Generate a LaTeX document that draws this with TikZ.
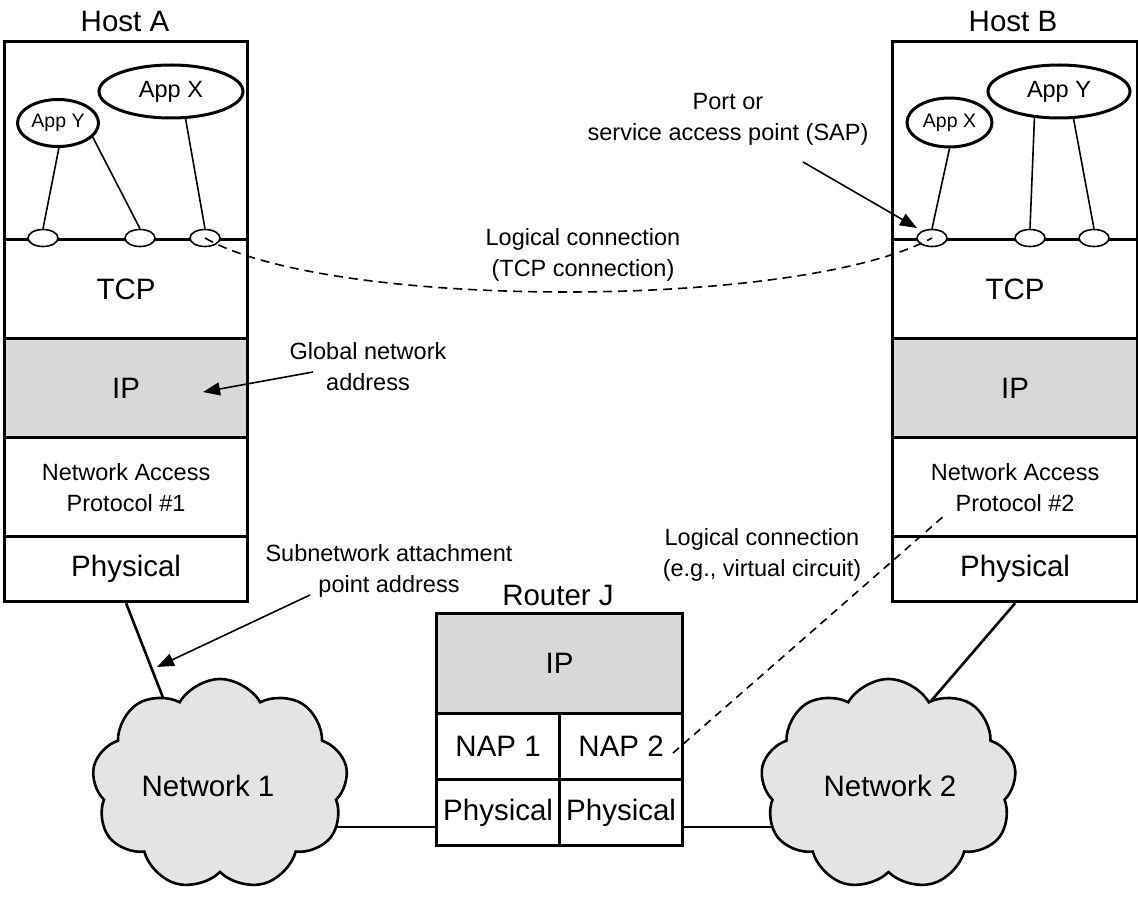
\documentclass[tikz,border=0pt]{standalone}
\usepackage{fontspec}
\setmainfont{Liberation Sans}
\usetikzlibrary{shapes.geometric,shapes.symbols,arrows.meta}
\definecolor{layergray}{RGB}{216,216,216}
\definecolor{cloudgray}{RGB}{228,228,228}
\begin{document}
\begin{tikzpicture}[x=1pt,y=-1pt,
  fbig/.style={font=\fontsize{29.5}{33}\selectfont},
  fmed/.style={font=\fontsize{23.5}{31}\selectfont},
  fsmall/.style={font=\fontsize{19.5}{22}\selectfont},
  stackbox/.style={draw,line width=3.2pt,rectangle,inner sep=0pt,anchor=north west,align=center},
  app/.style={draw,ellipse,line width=3pt,inner sep=0pt,fill=white},
  port/.style={draw,ellipse,line width=1.6pt,fill=white,minimum width=30pt,minimum height=17pt,inner sep=0pt},
  thinline/.style={line width=1.6pt},
  wire/.style={line width=2.6pt},
  dashline/.style={line width=1.6pt,dash pattern=on 9pt off 6pt},
  pointer/.style={line width=1.6pt,-{Triangle[length=17pt,width=13pt]}},
  txt/.style={inner sep=0pt,align=center},
  netcloud/.style={cloud,cloud puffs=9,cloud puff arc=120,aspect=1.2,draw,line width=2.6pt,fill=cloudgray,minimum width=256pt,minimum height=211pt,inner sep=0pt}
]
\useasboundingbox (0,0) rectangle (1138,904);

% ---------- coordinates for free connector ends (inside the clouds)
\coordinate (n1top) at (178,736);
\coordinate (n1r) at (300,827);
\coordinate (n2l) at (800,827);
\coordinate (n2top) at (925,708);

% ---------- Host A
\node[fbig] (hAlabel) at (125,21) {Host A};
\node[stackbox,minimum width=243pt,minimum height=198pt] (hAapp) at (3,40) {};
\node[stackbox,fbig,minimum width=243pt,minimum height=99pt] (hAtcp) at (3,238) {TCP};
\node[stackbox,fbig,fill=layergray,minimum width=243pt,minimum height=99pt] (hAip) at (3,337) {IP};
\node[stackbox,fmed,minimum width=243pt,minimum height=99pt] (hAnap) at (3,436) {Network Access\\Protocol \#1};
\node[stackbox,fbig,minimum width=243pt,minimum height=65pt] (hAphys) at (3,535) {Physical};

% ---------- Host B
\node[fbig] (hBlabel) at (1013,21) {Host B};
\node[stackbox,minimum width=245pt,minimum height=198pt] (hBapp) at (891,40) {};
\node[stackbox,fbig,minimum width=245pt,minimum height=99pt] (hBtcp) at (891,238) {TCP};
\node[stackbox,fbig,fill=layergray,minimum width=245pt,minimum height=99pt] (hBip) at (891,337) {IP};
\node[stackbox,fmed,minimum width=245pt,minimum height=99pt] (hBnap) at (891,436) {Network Access\\Protocol \#2};
\node[stackbox,fbig,minimum width=245pt,minimum height=65pt] (hBphys) at (891,535) {Physical};

% ---------- Router J
\node[fbig] (rlabel) at (558,595) {Router J};
\node[stackbox,fbig,fill=layergray,minimum width=246pt,minimum height=100pt] (rip) at (435,612) {IP};
\node[stackbox,fbig,minimum width=123pt,minimum height=66pt] (rnap1) at (435,712) {NAP 1};
\node[stackbox,fbig,minimum width=123pt,minimum height=66pt] (rnap2) at (558,712) {NAP 2};
\node[stackbox,fbig,minimum width=123pt,minimum height=66pt] (rphys1) at (435,778) {Physical};
\node[stackbox,fbig,minimum width=123pt,minimum height=66pt] (rphys2) at (558,778) {Physical};

% ---------- links (drawn before the clouds, which cover their ends)
\draw[wire] (hAphys.south) -- (n1top);
\draw[wire] (hBphys.south) -- (n2top);
\draw[wire] (n1r) -- (n1r -| rphys1.west);
\draw[wire] (n2l) -- (n2l -| rphys2.east);

% ---------- applications
\node[app,fsmall,minimum width=81pt,minimum height=47pt] (appYa) at (58,123) {App Y};
\node[app,fmed,minimum width=144pt,minimum height=53pt] (appXa) at (171,91.5) {App X};
\node[app,fsmall,minimum width=85pt,minimum height=49pt] (appXb) at (949.5,122.5) {App X};
\node[app,fmed,minimum width=142pt,minimum height=53pt] (appYb) at (1059,91.5) {App Y};

% ---------- ports
\node[port] (pa1) at (43,238) {};
\node[port] (pa2) at (140,238) {};
\node[port] (pa3) at (205,238) {};
\node[port] (pb1) at (932,238) {};
\node[port] (pb2) at (1030,238) {};
\node[port] (pb3) at (1094,238) {};

\draw[thinline] (appYa.-88) -- (pa1.north);
\draw[thinline] (appYa.-22) -- (pa2.north);
\draw[thinline] (appXa.-62) -- (pa3.north);
\draw[thinline] (appXb.south) -- (pb1.north);
\draw[thinline] (appYb.-133) -- (pb2.north);
\draw[thinline] (appYb.-62) -- (pb3.north);

% ---------- TCP logical connection
\draw[dashline] (pa3.center) .. controls (330,310) and (800,310) .. (pb1.center);
\node[txt,fmed] (tcplbl) at (583,255) {Logical connection\\(TCP connection)};

% ---------- SAP annotation
\node[txt,fmed] (saplbl) at (728,119) {Port or\\service access point (SAP)};
\coordinate (sapfrom) at (803,162);
\coordinate (saptip) at (917,228);
\draw[pointer] (sapfrom) -- (saptip);

% ---------- global network address
\node[txt,fmed] (gnalbl) at (368,367) {Global network\\address};
\coordinate (gnafrom) at (313,372);
\coordinate (gnatip) at (203,392);
\draw[pointer] (gnafrom) -- (gnatip);

% ---------- subnetwork attachment point address
\node[txt,fmed] (snlbl) at (389,571) {Subnetwork attachment\\point address};
\coordinate (snfrom) at (310,595);
\coordinate (sntip) at (157,667);
\draw[pointer] (snfrom) -- (sntip);

% ---------- virtual circuit logical connection
\node[txt,fmed] (vclbl) at (762,555) {Logical connection\\(e.g., virtual circuit)};
\coordinate (vcs) at (673,753);
\coordinate (vce) at (945,515);
\draw[dashline,dash pattern=on 8pt off 6pt] (vcs) -- (vce);

% ---------- clouds
\node[netcloud] (net1) at (220,784.5) {};
\node[txt,fbig] (net1txt) at (208,786) {Network 1};
\node[netcloud] (net2) at (888.5,784.5) {};
\node[txt,fbig] (net2txt) at (890,786) {Network 2};
\end{tikzpicture}
\end{document}
